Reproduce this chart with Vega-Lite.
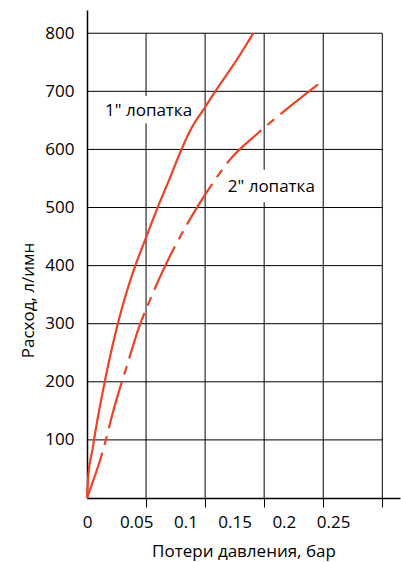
{
  "$schema": "https://vega.github.io/schema/vega-lite/v6.json",
  "width": 313,
  "height": 488,
  "autosize": "none",
  "padding": {"left": 87, "top": 10, "right": 1, "bottom": 64},
  "config": {"view": {"stroke": null}, "font": "Open Sans"},
  "resolve": {"axis": {"x": "independent"}},
  "datasets": {
    "curves": [
      {"s": "1", "p": 0, "q": 0},
      {"s": "1", "p": 0.001, "q": 30},
      {"s": "1", "p": 0.006, "q": 88},
      {"s": "1", "p": 0.018, "q": 200},
      {"s": "1", "p": 0.0315, "q": 301},
      {"s": "1", "p": 0.046, "q": 385},
      {"s": "1", "p": 0.059, "q": 444},
      {"s": "1", "p": 0.072, "q": 501},
      {"s": "1", "p": 0.084, "q": 550},
      {"s": "1", "p": 0.095, "q": 596},
      {"s": "1", "p": 0.105, "q": 633},
      {"s": "1", "p": 0.12, "q": 673},
      {"s": "1", "p": 0.13, "q": 699},
      {"s": "1", "p": 0.152, "q": 754},
      {"s": "1", "p": 0.169, "q": 800},
      {"s": "2", "p": 0, "q": 0},
      {"s": "2", "p": 0.0173, "q": 88},
      {"s": "2", "p": 0.0264, "q": 148},
      {"s": "2", "p": 0.0417, "q": 234},
      {"s": "2", "p": 0.052, "q": 290},
      {"s": "2", "p": 0.064, "q": 341},
      {"s": "2", "p": 0.079, "q": 398},
      {"s": "2", "p": 0.089, "q": 432},
      {"s": "2", "p": 0.115, "q": 509},
      {"s": "2", "p": 0.125, "q": 535},
      {"s": "2", "p": 0.145, "q": 582},
      {"s": "2", "p": 0.173, "q": 627},
      {"s": "2", "p": 0.191, "q": 653},
      {"s": "2", "p": 0.24, "q": 719}
    ],
    "vgrid": [{"p": 0.06}, {"p": 0.12}, {"p": 0.18}, {"p": 0.24}, {"p": 0.3}],
    "hgrid": [{"q": 100}, {"q": 200}, {"q": 300}, {"q": 400}, {"q": 500}, {"q": 600}, {"q": 700}, {"q": 800}],
    "labels": [
      {"t": "1\" лопатка", "p": 0.0183, "q": 657, "bp": 0.0132, "bp2": 0.11, "bq": 645, "bq2": 692},
      {"t": "2\" лопатка", "p": 0.143, "q": 527, "bp": 0.137, "bp2": 0.237, "bq": 509, "bq2": 565}
    ]
  },
  "layer": [
    {
      "data": {"name": "vgrid"},
      "mark": {"type": "rule", "color": "#000", "strokeWidth": 1},
      "encoding": {
        "x": {
          "field": "p", "type": "quantitative",
          "scale": {"domain": [0, 0.318], "nice": false, "zero": false},
          "axis": {
            "orient": "bottom",
            "title": "Потери давления, бар",
            "values": [0.06, 0.12, 0.18, 0.24, 0.3],
            "labels": false,
            "tickSize": 9, "tickColor": "#000", "tickWidth": 1,
            "domainColor": "#000", "domainWidth": 1.5,
            "grid": false,
            "titleFontSize": 17, "titleFontWeight": "normal", "titleColor": "#000",
            "titleY": 58, "titleBaseline": "alphabetic"
          }
        },
        "y": {
          "datum": 0, "type": "quantitative",
          "scale": {"domain": [0, 840], "nice": false, "zero": false},
          "axis": {
            "title": "Расход, л/имн",
            "values": [100, 200, 300, 400, 500, 600, 700, 800],
            "ticks": false, "grid": false,
            "labelPadding": 13, "labelFontSize": 17, "labelColor": "#000",
            "domainColor": "#000", "domainWidth": 1.5,
            "titleFontSize": 17, "titleFontWeight": "normal", "titleColor": "#000",
            "titleAngle": -90, "titleX": -54, "titleY": 290,
            "titleBaseline": "alphabetic", "titleAlign": "center"
          }
        },
        "y2": {"datum": 800}
      }
    },
    {
      "data": {"name": "hgrid"},
      "mark": {"type": "rule", "color": "#000", "strokeWidth": 1},
      "encoding": {
        "y": {"field": "q", "type": "quantitative", "scale": {"domain": [0, 840], "nice": false, "zero": false}},
        "x": {
          "datum": 0, "type": "quantitative",
          "scale": {"domain": [0, 0.318], "nice": false, "zero": false},
          "axis": {
            "orient": "bottom",
            "title": null,
            "values": [0, 0.05, 0.1, 0.15, 0.2, 0.25],
            "format": "~g",
            "ticks": false, "domain": false, "grid": false,
            "labelPadding": 16, "labelFontSize": 17, "labelColor": "#000",
            "labelFlush": false, "labelOverlap": false
          }
        },
        "x2": {"datum": 0.3}
      }
    },
    {
      "data": {"name": "labels"},
      "mark": {"type": "rect", "fill": "#fff"},
      "encoding": {
        "x": {"field": "bp", "type": "quantitative", "axis": null},
        "x2": {"field": "bp2"},
        "y": {"field": "bq", "type": "quantitative"},
        "y2": {"field": "bq2"}
      }
    },
    {
      "data": {"name": "curves"},
      "mark": {"type": "line", "strokeWidth": 2.2, "strokeCap": "butt", "interpolate": "monotone"},
      "encoding": {
        "x": {"field": "p", "type": "quantitative", "axis": null},
        "y": {"field": "q", "type": "quantitative"},
        "color": {"field": "s", "type": "nominal", "scale": {"domain": ["1", "2"], "range": ["#ef4123", "#ef4123"]}, "legend": null},
        "strokeDash": {"field": "s", "type": "nominal", "scale": {"domain": ["1", "2"], "range": [[1, 0], [48, 8, 9, 8]]}, "legend": null}
      }
    },
    {
      "data": {"name": "labels"},
      "mark": {"type": "text", "align": "left", "baseline": "alphabetic", "fontSize": 17, "color": "#000"},
      "encoding": {
        "x": {"field": "p", "type": "quantitative", "axis": null},
        "y": {"field": "q", "type": "quantitative"},
        "text": {"field": "t"}
      }
    }
  ]
}
